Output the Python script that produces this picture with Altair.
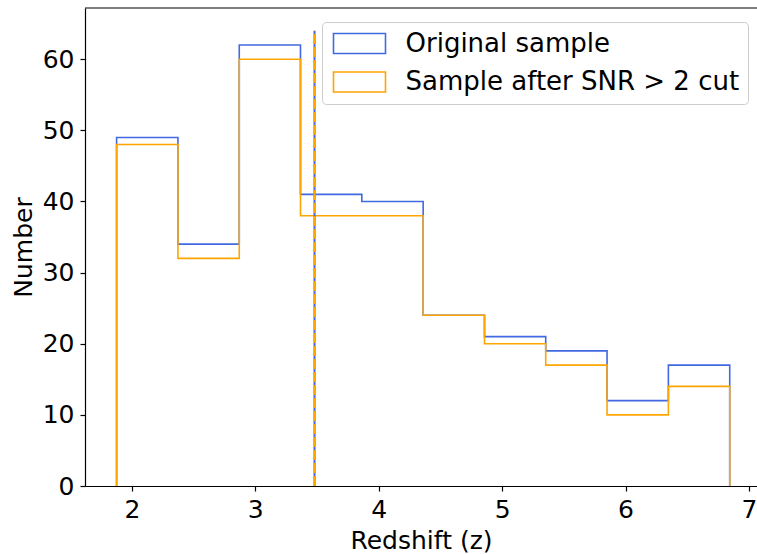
import altair as alt
import pandas as pd

# Bin edges of the redshift histogram
edges = [1.876, 2.373, 2.870, 3.366, 3.863, 4.360, 4.857, 5.353, 5.850, 6.347, 6.844]
original_counts = [49, 34, 62, 41, 40, 24, 21, 19, 12, 17]
snr_counts = [48, 32, 60, 38, 38, 24, 20, 17, 10, 14]
series_names = ["Original sample", "Sample after SNR > 2 cut"]
series_colors = ["#4169E1", "#FFA500"]
vline_z = 3.48
vline_top = 64

rows = []
for name, counts in zip(series_names, [original_counts, snr_counts]):
    k = 0
    rows.append({"x": edges[0], "y": 0, "series": name, "o": k}); k += 1
    for i, c in enumerate(counts):
        rows.append({"x": edges[i], "y": c, "series": name, "o": k}); k += 1
        rows.append({"x": edges[i + 1], "y": c, "series": name, "o": k}); k += 1
    rows.append({"x": edges[-1], "y": 0, "series": name, "o": k})
df = pd.DataFrame(rows)
vdf = pd.DataFrame({"x": [vline_z], "y": [0], "y2": [vline_top]})

xscale = alt.Scale(domain=[1.62, 7.065], nice=False, zero=False)
yscale = alt.Scale(domain=[0, 67.2], nice=False)

FONT = "DejaVu Sans"
FS = 25

steps = alt.Chart(df).mark_line(strokeWidth=1.6, interpolate="linear").encode(
    x=alt.X("x:Q", scale=xscale, title="Redshift (z)",
            axis=alt.Axis(values=[2, 3, 4, 5, 6, 7], format="d")),
    y=alt.Y("y:Q", scale=yscale, title="Number",
            axis=alt.Axis(values=[0, 10, 20, 30, 40, 50, 60], format="d")),
    color=alt.Color("series:N",
                    scale=alt.Scale(domain=series_names, range=series_colors),
                    legend=alt.Legend(
                        title=None, orient="none", legendX=237, legendY=14,
                        symbolType="M-2.6,-1H2.6V1H-2.6Z", symbolSize=400,
                        symbolOffset=16,
                        symbolStrokeWidth=1.6, symbolFillColor="transparent",
                        labelFont=FONT, labelFontSize=26, labelColor="black",
                        labelLimit=500,
                        labelOffset=33, padding=8.5, fillColor="white",
                        strokeColor="#cccccc", cornerRadius=4, rowPadding=10.5)),
    order="o:Q",
)

vblue = alt.Chart(vdf).mark_rule(strokeWidth=2, color="#4169E1").encode(
    x=alt.X("x:Q", scale=xscale), y=alt.Y("y:Q", scale=yscale), y2="y2:Q")
vorange = alt.Chart(vdf).mark_rule(strokeWidth=2, color="#FFA500",
                                   strokeDash=[10, 3]).encode(
    x=alt.X("x:Q", scale=xscale), y=alt.Y("y:Q", scale=yscale), y2="y2:Q")

topline = alt.Chart(vdf).mark_rule(color="black", strokeWidth=1.2).encode(
    x=alt.value(0), x2=alt.value(700), y=alt.value(0))

chart = alt.layer(steps, vblue, vorange, topline).properties(
    width=672, height=478,
    autosize=alt.AutoSizeParams(type="none"),
    padding={"left": 85, "top": 8, "right": 0, "bottom": 68},
).configure_view(stroke=None).configure_axis(
    grid=False, domainColor="black", domainWidth=1.2, tickColor="black",
    tickWidth=1.2, tickSize=5, labelFont=FONT, labelFontSize=FS,
    labelColor="black", titleFont=FONT, titleFontSize=FS, titleColor="black",
    titleFontWeight="normal", labelPadding=6,
).configure_axisX(titlePadding=6).configure_axisY(titlePadding=6)

chart.save("out.html", embed_options={"renderer": "svg", "actions": False})
